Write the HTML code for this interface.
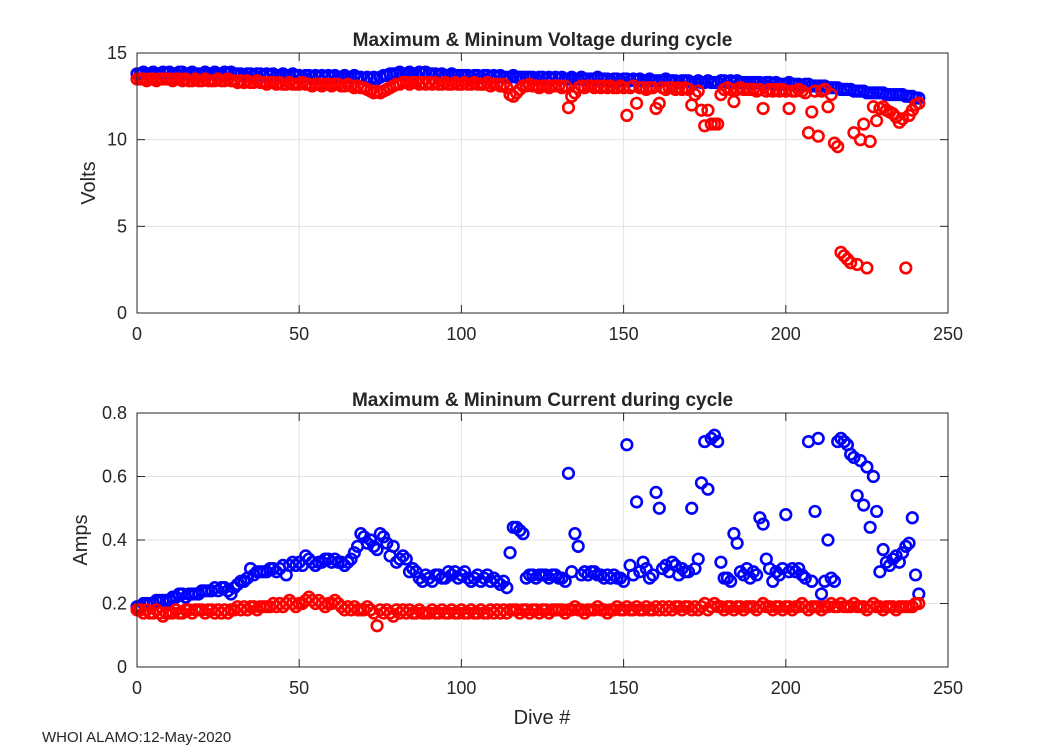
<!DOCTYPE html>
<html><head><meta charset="utf-8"><style>
body{margin:0;background:#fff;}
svg text{font-family:"Liberation Sans",Arial,sans-serif;fill:#262626;}
</style></head><body>
<svg id="fig" width="1050" height="750" viewBox="0 0 1050 750" xmlns="http://www.w3.org/2000/svg">
<rect width="1050" height="750" fill="#fff"/>
<g id="g1"></g>
<g id="g2"></g>
<text x="42" y="742" font-size="15" fill="#000">WHOI ALAMO:12-May-2020</text>
</svg>
<script>
const vMax=[13.8,13.8,13.9,13.8,13.8,13.9,13.8,13.8,13.9,13.8,13.9,13.8,13.8,13.9,13.9,13.8,13.8,13.9,13.8,13.8,13.8,13.9,13.8,13.8,13.9,13.8,13.8,13.9,13.8,13.9,13.8,13.8,13.8,13.7,13.8,13.8,13.7,13.8,13.8,13.7,13.8,13.7,13.8,13.7,13.7,13.8,13.7,13.7,13.8,13.7,13.7,13.6,13.7,13.7,13.6,13.7,13.6,13.7,13.6,13.7,13.6,13.7,13.6,13.6,13.7,13.6,13.6,13.7,13.6,13.6,13.5,13.6,13.5,13.6,13.5,13.6,13.7,13.7,13.8,13.8,13.8,13.9,13.8,13.8,13.9,13.8,13.8,13.9,13.8,13.9,13.8,13.8,13.8,13.7,13.8,13.7,13.7,13.8,13.7,13.7,13.7,13.7,13.7,13.6,13.7,13.7,13.6,13.7,13.7,13.6,13.7,13.6,13.7,13.6,13.6,13.6,13.7,13.6,13.6,13.6,13.6,13.6,13.6,13.5,13.6,13.6,13.5,13.6,13.5,13.6,13.5,13.6,13.5,13.5,13.6,13.5,13.5,13.6,13.5,13.5,13.5,13.5,13.6,13.5,13.5,13.5,13.4,13.5,13.5,13.4,13.5,13.5,13.4,13.5,13.4,13.5,13.4,13.4,13.5,13.4,13.4,13.4,13.4,13.5,13.4,13.4,13.4,13.3,13.4,13.4,13.4,13.3,13.3,13.4,13.3,13.3,13.4,13.3,13.3,13.3,13.4,13.4,13.3,13.4,13.3,13.4,13.3,13.3,13.3,13.3,13.3,13.3,13.3,13.2,13.3,13.3,13.2,13.3,13.2,13.2,13.2,13.3,13.2,13.2,13.2,13.1,13.2,13.2,13.1,13.1,13.1,13.1,13.1,13.0,13.0,13.0,13.0,12.9,12.9,12.9,12.9,12.8,12.8,12.8,12.8,12.7,12.7,12.7,12.7,12.7,12.7,12.6,12.6,12.6,12.6,12.6,12.6,12.5,12.5,12.5,12.4,12.4];
const vMin=[13.5,13.5,13.5,13.4,13.5,13.5,13.4,13.5,13.5,13.5,13.5,13.4,13.5,13.5,13.4,13.5,13.4,13.4,13.5,13.4,13.4,13.5,13.4,13.4,13.4,13.5,13.4,13.4,13.5,13.4,13.4,13.3,13.4,13.3,13.4,13.3,13.3,13.4,13.3,13.3,13.2,13.3,13.3,13.2,13.3,13.2,13.2,13.3,13.2,13.2,13.2,13.3,13.2,13.2,13.1,13.2,13.2,13.1,13.2,13.2,13.1,13.2,13.2,13.1,13.1,13.2,13.1,13.0,13.1,13.0,13.0,12.9,12.8,12.7,12.8,12.7,12.8,12.9,13.0,13.1,13.2,13.2,13.3,13.3,13.2,13.3,13.3,13.2,13.3,13.2,13.3,13.2,13.3,13.2,13.2,13.3,13.2,13.2,13.3,13.2,13.2,13.3,13.2,13.2,13.3,13.2,13.2,13.2,13.3,13.1,13.2,13.2,13.1,13.2,13.0,12.6,12.5,12.7,12.9,13.1,13.1,13.2,13.1,13.1,13.0,13.1,13.1,13.0,13.1,13.1,13.1,13.0,13.1,11.85,12.5,12.7,13.0,13.1,13.0,13.1,13.1,13.0,13.1,13.0,13.1,13.0,13.1,13.0,13.0,13.1,13.0,11.4,13.0,13.1,12.1,13.0,13.0,12.9,13.0,13.0,11.8,12.1,13.0,12.9,13.0,13.0,12.9,13.0,12.9,13.0,12.9,12.0,12.6,12.8,11.7,10.8,11.7,10.9,10.9,10.9,12.6,12.9,13.0,12.9,12.2,12.9,13.0,12.9,12.9,12.9,12.9,12.8,12.9,11.8,12.8,12.9,12.8,12.9,12.8,12.9,12.8,11.8,12.8,12.8,12.9,12.8,12.7,10.4,11.6,12.8,10.2,12.8,12.9,11.9,12.6,9.8,9.6,3.5,3.3,3.1,2.9,10.4,2.8,10.0,10.9,2.6,9.9,11.9,11.1,11.8,11.9,11.7,11.6,11.5,11.3,11.0,11.2,2.6,11.4,11.7,12.0,12.1];
const cMax=[.19,.19,.20,.20,.20,.20,.21,.21,.21,.21,.21,.22,.22,.23,.23,.22,.23,.23,.23,.23,.24,.24,.24,.24,.25,.24,.25,.25,.24,.23,.25,.26,.27,.27,.28,.31,.29,.30,.30,.30,.30,.31,.31,.30,.31,.32,.29,.32,.33,.32,.33,.32,.35,.34,.33,.32,.33,.33,.34,.34,.33,.34,.33,.33,.32,.33,.34,.36,.38,.42,.41,.39,.40,.38,.37,.42,.41,.39,.35,.38,.33,.34,.35,.34,.30,.31,.30,.28,.27,.29,.28,.27,.29,.29,.28,.28,.30,.29,.30,.28,.29,.30,.28,.27,.28,.29,.27,.28,.29,.27,.28,.27,.26,.27,.25,.36,.44,.44,.43,.42,.28,.29,.29,.28,.29,.29,.29,.28,.29,.29,.28,.28,.27,.61,.30,.42,.38,.29,.30,.29,.30,.30,.29,.29,.28,.29,.28,.29,.28,.28,.27,.70,.32,.29,.52,.30,.33,.31,.28,.29,.55,.50,.31,.32,.30,.33,.32,.29,.31,.30,.30,.50,.31,.34,.58,.71,.56,.72,.73,.71,.33,.28,.28,.27,.42,.39,.30,.29,.31,.28,.30,.29,.47,.45,.34,.31,.27,.30,.29,.31,.48,.30,.31,.30,.31,.29,.28,.71,.27,.49,.72,.23,.27,.40,.28,.27,.71,.72,.71,.70,.67,.66,.54,.65,.51,.63,.44,.60,.49,.30,.37,.33,.32,.34,.35,.33,.36,.38,.39,.47,.29,.23];
const cMin=[.18,.18,.17,.18,.17,.17,.18,.17,.16,.17,.17,.17,.18,.17,.17,.18,.18,.17,.18,.18,.18,.17,.18,.18,.17,.18,.17,.18,.17,.18,.18,.19,.18,.19,.18,.19,.19,.18,.19,.19,.19,.19,.20,.19,.20,.19,.20,.21,.20,.19,.20,.20,.21,.22,.21,.20,.21,.20,.19,.20,.20,.21,.20,.19,.18,.19,.18,.19,.18,.18,.18,.19,.18,.17,.13,.18,.17,.18,.17,.16,.18,.17,.18,.17,.18,.17,.17,.18,.17,.17,.17,.18,.17,.17,.18,.17,.17,.18,.17,.17,.18,.17,.17,.18,.17,.17,.18,.17,.17,.18,.17,.18,.17,.18,.17,.18,.18,.18,.17,.18,.18,.17,.18,.18,.17,.18,.18,.17,.18,.18,.18,.18,.17,.18,.18,.19,.18,.18,.17,.18,.18,.18,.19,.18,.18,.17,.18,.18,.19,.18,.18,.19,.18,.18,.19,.18,.18,.19,.18,.18,.19,.18,.19,.18,.19,.18,.19,.19,.18,.19,.19,.18,.19,.18,.19,.20,.18,.19,.20,.19,.19,.18,.19,.19,.18,.19,.19,.18,.19,.19,.19,.18,.19,.20,.19,.19,.18,.19,.19,.18,.19,.19,.18,.19,.19,.20,.19,.18,.19,.19,.19,.18,.19,.19,.20,.19,.19,.20,.19,.19,.19,.20,.19,.19,.19,.18,.19,.20,.19,.19,.18,.19,.19,.19,.18,.19,.19,.19,.19,.19,.20,.20];
const xTicks=[0,50,100,150,200,250];
const vTicks=[0,5,10,15];
const cTicks=[0,0.2,0.4,0.6,0.8];
const cTickLabels=["0","0.2","0.4","0.6","0.8"];

const NS="http://www.w3.org/2000/svg";
function mk(parent,tag,attrs){const e=document.createElementNS(NS,tag);for(const k in attrs)e.setAttribute(k,attrs[k]);parent.appendChild(e);return e;}
const X0=137,X1=948;
function panel(g,top,bot,ymax,yTicks,yLabels,title,ylabel,ylabX,series){
  const sx=v=>X0+(v/250)*(X1-X0);
  const sy=v=>bot-(v/ymax)*(bot-top);
  yTicks.forEach((t,i)=>{
    const l=mk(g,'line',{x1:X0,x2:X1,y1:sy(t),y2:sy(t),stroke:'#e3e3e3','stroke-width':1});
    
    
    const tx=mk(g,'text',{x:X0-10,y:sy(t)+6,'font-size':18,'text-anchor':'end'});
    tx.textContent=yLabels[i];
    
    
    mk(g,'line',{x1:X0,x2:X0+8,y1:sy(t),y2:sy(t),stroke:'#262626'});
    mk(g,'line',{x1:X1,x2:X1-8,y1:sy(t),y2:sy(t),stroke:'#262626'});
  });
  xTicks.forEach(t=>{
    const l=mk(g,'line',{x1:sx(t),x2:sx(t),y1:top,y2:bot,stroke:'#e3e3e3','stroke-width':1});
    
    
    const tx=mk(g,'text',{x:sx(t),y:bot+27,'font-size':18,'text-anchor':'middle'});
    tx.textContent=String(t);
    
    
    mk(g,'line',{x1:sx(t),x2:sx(t),y1:bot,y2:bot-8,stroke:'#262626'});
    mk(g,'line',{x1:sx(t),x2:sx(t),y1:top,y2:top+8,stroke:'#262626'});
  });
  series.forEach(s=>{
    const sg=mk(g,'g',{fill:'none',stroke:s.color,'stroke-width':2.6});
    
    
    s.data.forEach((v,i)=>{
      const c=mk(sg,'circle',{cx:sx(i),cy:sy(v),r:5.3});
      
      
    });
  });
  const box=mk(g,'rect',{x:X0,y:top,width:X1-X0,height:bot-top,fill:'none',stroke:'#262626','stroke-width':1});
  
  
  const tt=mk(g,'text',{x:(X0+X1)/2,y:top-7,'font-size':19,'font-weight':'bold','text-anchor':'middle',fill:'#000'});
  tt.textContent=title;
  
  
  const yl=mk(g,'text',{x:ylabX,y:(top+bot)/2,'font-size':20,'text-anchor':'middle',transform:`rotate(-90 ${ylabX} ${(top+bot)/2})`});
  yl.textContent=ylabel;
  
  
}
panel(document.getElementById('g1'),53,313,15,vTicks,vTicks.map(String),'Maximum & Mininum Voltage during cycle','Volts',95,
  [{data:vMax,color:'#0000ff',name:'voltage-max-series'},{data:vMin,color:'#ff0000',name:'voltage-min-series'}]);
panel(document.getElementById('g2'),413,667,0.8,cTicks,cTickLabels,'Maximum & Mininum Current during cycle','Amps',87,
  [{data:cMax,color:'#0000ff',name:'current-max-series'},{data:cMin,color:'#ff0000',name:'current-min-series'}]);
const xl=mk(document.getElementById('g2'),'text',{x:542,y:724,'font-size':20,'text-anchor':'middle'});
xl.textContent='Dive #';


</script>
</body></html>
